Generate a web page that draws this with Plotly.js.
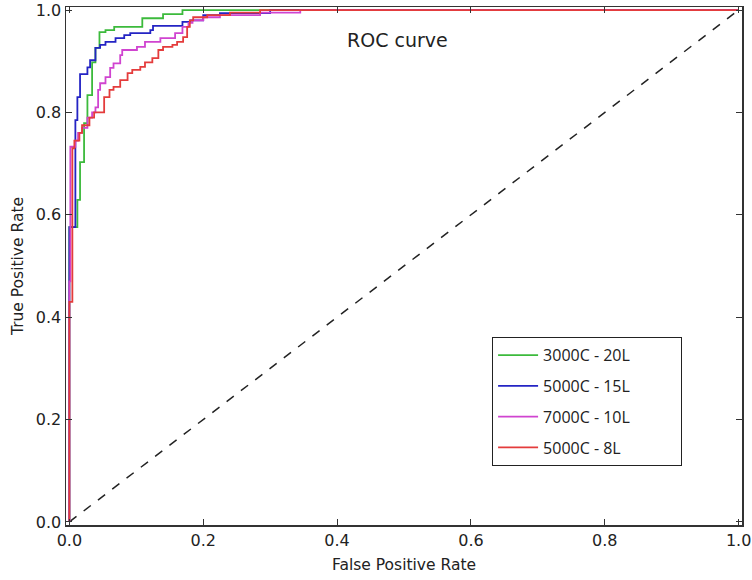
<!DOCTYPE html>
<html>
<head>
<meta charset="utf-8">
<script src="https://cdn.plot.ly/plotly-3.0.1.min.js"></script>
<style>
  html, body { margin: 0; padding: 0; background: #fff; }
  #chart { width: 752px; height: 580px; }
</style>
</head>
<body>
<div id="chart"></div>
<script>
// ROC step points: each (fpr, tpr) is where the curve rises to tpr
const seriesNames = ['3000C - 20L', '5000C - 15L', '7000C - 10L', '5000C - 8L'];

const fprGreen = [0, 0, 0.012, 0.016, 0.022, 0.027, 0.034, 0.039, 0.045, 0.054, 0.067, 0.109, 0.140, 0.169, 1];
const tprGreen = [0, 0.576, 0.629, 0.703, 0.779, 0.834, 0.898, 0.926, 0.957, 0.961, 0.967, 0.984, 0.992, 1.0, 1.0];

const fprBlue = [0, 0, 0.009, 0.012, 0.016, 0.027, 0.031, 0.039, 0.046, 0.054, 0.069, 0.082, 0.091, 0.121, 0.125, 0.169, 0.181, 0.200, 0.225, 0.300, 1];
const tprBlue = [0, 0.576, 0.785, 0.830, 0.875, 0.888, 0.902, 0.926, 0.932, 0.938, 0.945, 0.951, 0.955, 0.961, 0.969, 0.977, 0.980, 0.990, 0.994, 1.0, 1.0];

const fprMagenta = [0, 0, 0.0015, 0.009, 0.013, 0.019, 0.027, 0.034, 0.039, 0.043, 0.046, 0.054, 0.061, 0.066, 0.076, 0.079, 0.101, 0.113, 0.136, 0.158, 0.169, 0.178, 0.184, 0.200, 0.225, 0.285, 0.345, 1];
const tprMagenta = [0, 0.470, 0.733, 0.745, 0.760, 0.770, 0.790, 0.800, 0.810, 0.844, 0.857, 0.869, 0.887, 0.896, 0.912, 0.922, 0.928, 0.938, 0.945, 0.955, 0.967, 0.975, 0.980, 0.986, 0.990, 0.995, 1.0, 1.0];

const fprRed = [0, 0, 0.0045, 0.0075, 0.015, 0.019, 0.030, 0.037, 0.052, 0.060, 0.066, 0.076, 0.087, 0.094, 0.106, 0.113, 0.124, 0.133, 0.140, 0.154, 0.161, 0.170, 0.176, 0.180, 0.185, 0.206, 0.240, 0.285, 1];
const tprRed = [0, 0.430, 0.730, 0.745, 0.760, 0.775, 0.790, 0.800, 0.830, 0.844, 0.850, 0.863, 0.877, 0.883, 0.889, 0.898, 0.906, 0.922, 0.928, 0.932, 0.938, 0.947, 0.967, 0.980, 0.986, 0.990, 0.995, 1.0, 1.0];

const chanceX = [0, 1];
const chanceY = [0, 1];

const colors = ['#3cba3c', '#2424c4', '#d044d0', '#e43c3c'];
const legendPad = '\u00a0'.repeat(11);

function rocTrace(x, y, i) {
    return {
        // trailing spaces widen the legend box like the original
        x: x, y: y, type: 'scatter', mode: 'lines', name: seriesNames[i] + legendPad,
        legendgroup: 'g' + i,
        line: { color: colors[i], width: 1.8, shape: 'hv' }
    };
}

const data = [
    { x: chanceX, y: chanceY, type: 'scatter', mode: 'lines', showlegend: false,
      line: { color: '#222', width: 1.5, dash: 'dash' } },
    rocTrace(fprGreen, tprGreen, 0),
    rocTrace(fprBlue, tprBlue, 1),
    rocTrace(fprMagenta, tprMagenta, 2),
    rocTrace(fprRed, tprRed, 3)
];

const axisStyle = {
    showline: true, linecolor: '#333', linewidth: 1.5, mirror: 'ticks',
    ticks: 'inside', ticklen: 6, tickcolor: '#333', tickwidth: 1,
    showgrid: false, zeroline: false,
    tickvals: [0, 0.2, 0.4, 0.6, 0.8, 1.0], tickformat: '.1f',
    tickfont: { family: 'DejaVu Sans', size: 16, color: '#222' }
};

const layout = {
    width: 752, height: 580,
    margin: { l: 66, r: 10, t: 7, b: 55, pad: 0 },
    paper_bgcolor: '#fff', plot_bgcolor: '#fff',
    xaxis: Object.assign({}, axisStyle, {
        range: [-0.005, 1.005],
        title: { text: 'False Positive Rate', font: { family: 'DejaVu Sans', size: 15.5, color: '#222' }, standoff: 10 }
    }),
    yaxis: Object.assign({}, axisStyle, {
        range: [-0.006, 1.006],
        title: { text: 'True Positive Rate', font: { family: 'DejaVu Sans', size: 15.5, color: '#222' }, standoff: 8 }
    }),
    annotations: [{
        text: 'ROC curve', xref: 'paper', yref: 'paper', x: 0.49, y: 0.936,
        xanchor: 'center', yanchor: 'middle', showarrow: false,
        font: { family: 'DejaVu Sans', size: 19, color: '#222' }
    }],
    legend: {
        x: 0.63, y: 0.363, xanchor: 'left', yanchor: 'top',
        bordercolor: '#222', borderwidth: 1.2, bgcolor: '#fff',
        font: { family: 'Open Sans', size: 16, color: '#222' },
        tracegroupgap: 7, itemwidth: 40
    },
    showlegend: true
};

Plotly.newPlot('chart', data, layout, { displayModeBar: false, staticPlot: true });
</script>
</body>
</html>
